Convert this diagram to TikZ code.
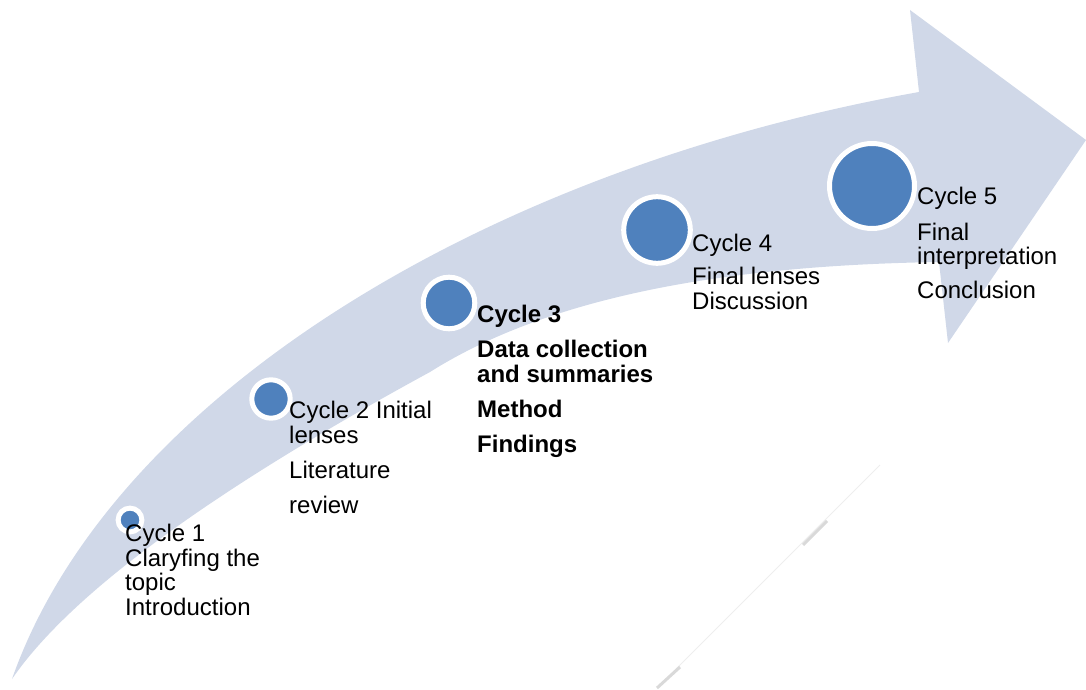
\documentclass[tikz,border=0pt]{standalone}
\usepackage{fontspec}
\setmainfont{Liberation Sans}
\definecolor{band}{HTML}{D0D8E8}
\definecolor{dot}{HTML}{4F81BD}
\definecolor{rulefaint}{HTML}{EEEEEE}
\definecolor{rulemark}{HTML}{D9D9D9}
\begin{document}
\begin{tikzpicture}[x=1pt,y=-1pt,
  stage/.style={circle, fill=dot, draw=white, line width=5pt, inner sep=0pt, minimum size=#1},
  % texts are placed by the baseline of their last line
  cycletext/.style={anchor=base west, inner sep=0pt, align=left,
    font=\fontsize{24}{24.5}\selectfont},
]
\useasboundingbox (0,0) rectangle (1086,690);

% curved band with arrow head
\fill[band] (12,679) .. controls (110,400) and (480,170) .. (919,92)
  -- (910,10) -- (1086,140) -- (948,343) -- (939,262)
  .. controls (750,265) and (560,290) .. (430,372)
  .. controls (250,470) and (80,580) .. (12,679) -- cycle;

% faint diagonal rule at the lower right
\coordinate (r0) at (657,688);
\coordinate (r1) at (880,465);
\draw[rulefaint, line width=1pt] (r0) -- (r1);
\draw[rulemark, line width=3pt] (657,688) -- (680,667);
\draw[rulemark, line width=3pt] (803,545) -- (827,521);

% stage markers
\node[stage=23.8] (c1) at (130,520) {};
\node[stage=38.4] (c2) at (271,399) {};
\node[stage=51.6] (c3) at (449,303) {};
\node[stage=66.6] (c4) at (657,230) {};
\node[stage=85]   (c5) at (872,186) {};

% stage texts
\node[cycletext] (t1) at (125,615) {Cycle 1\\Claryfing the\\topic\\Introduction};
\node[cycletext] (t2) at (289,513) {Cycle 2 Initial\\lenses\\[10.5pt]Literature\\[10.5pt]review};
\node[cycletext, font=\fontsize{24}{24.5}\selectfont\bfseries] (t3) at (477,452)
  {Cycle 3\\[11pt]Data collection\\and summaries\\[10.5pt]Method\\[10.5pt]Findings};
\node[cycletext] (t4) at (692,309) {Cycle 4\\[9pt]Final lenses\\Discussion};
\node[cycletext] (t5) at (917,298) {Cycle 5\\[11pt]Final\\interpretation\\[9pt]Conclusion};
\end{tikzpicture}
\end{document}
